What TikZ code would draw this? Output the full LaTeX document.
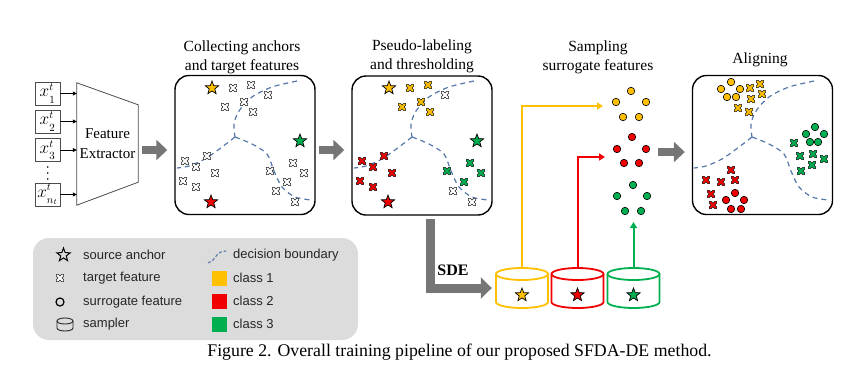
\documentclass[tikz,border=0pt]{standalone}
\usepackage{fontspec}
\setmainfont{Liberation Serif}
\newfontfamily\lgfont{Liberation Sans}
\usetikzlibrary{shapes.geometric,arrows.meta,calc}
\definecolor{cy}{HTML}{FFC000}
\definecolor{cr}{HTML}{F00000}
\definecolor{cg}{HTML}{00B050}
\definecolor{bnd}{HTML}{5577AA}
\definecolor{garr}{HTML}{767676}
\definecolor{lgbg}{HTML}{DCDCDC}
\newcommand\xin[2]{$x^{#1}_{\lower2pt\hbox{$\scriptstyle #2$}}$}
\tikzset{
  pics/tf/.style={code={
    \draw[line width=3.4pt,line cap=round,black!85] (-2.7,-2.7)--(2.7,2.7) (-2.7,2.7)--(2.7,-2.7);
    \draw[line width=1.8pt,line cap=round,#1] (-2.7,-2.7)--(2.7,2.7) (-2.7,2.7)--(2.7,-2.7);
  }},
  anc/.style={star,star points=5,star point ratio=2.4,minimum size=14pt,inner sep=0pt,draw=black,line width=0.7pt,fill=#1},
  sf/.style={circle,draw=black,line width=0.6pt,fill=#1,minimum size=7.5pt,inner sep=0pt},
  panel/.style={draw=black,line width=1.4pt,rounded corners=14pt,minimum width=140pt,minimum height=139pt,inner sep=0pt},
  ttl/.style={font=\fontsize{15.5}{19}\selectfont,align=center,inner sep=0pt},
  inbox/.style={draw=black!70,line width=0.7pt,minimum width=25pt,minimum height=23pt,inner sep=0pt,font=\fontsize{16}{16}\selectfont},
  inarr/.style={black,line width=0.8pt,-{Triangle[length=4pt,width=4pt]}},
  bigarr/.style={garr,line width=8pt,-{Triangle[length=11pt,width=20pt]}},
  bline/.style={bnd,line width=1.2pt,dash pattern=on 5pt off 4pt},
  carr/.style={line width=2pt,-{Triangle[length=6pt,width=7pt]}},
  lgt/.style={font=\lgfont\fontsize{13}{15}\selectfont,anchor=west,inner sep=0pt,text=black!85},
}
\newcommand\mybnd{%
  \draw[bline] plot[smooth] coordinates {(297,81)(272,87)(252,97)(239,111)(234,124)(235,137)};
  \draw[bline] plot[smooth] coordinates {(235,137)(222,147)(205,159)(189,166)(177,168)};
  \draw[bline] plot[smooth] coordinates {(235,137)(252,144)(267,154)(274,171)(282,187)(295,197)(311,200)};
}
\newcommand\mycyl[3]{%
  \node[minimum width=52pt,minimum height=40pt,inner sep=0pt] (#1) at (#2,288) {};
  \draw[#3,line width=1.8pt,fill=white] (#2-26,274) -- (#2-26,302) arc[start angle=180,end angle=0,x radius=26,y radius=6] -- (#2+26,274);
  \draw[#3,line width=1.8pt] (#2,274) ellipse[x radius=26,y radius=6];
}
\begin{document}
\begin{tikzpicture}[x=1pt,y=-1pt]
\useasboundingbox (0,0) rectangle (865,381);

% ---------- inputs and feature extractor
\node[inbox] (x1) at (47.5,93.5) {\xin{t}{1}};
\node[inbox] (x2) at (47.5,121.5) {\xin{t}{2}};
\node[inbox] (x3) at (47.5,150) {\xin{t}{3}};
\node[inbox] (x4) at (47.5,194.5) {\xin{t}{n_t}};
\foreach \yy in {167,173,179} \fill[black] (47.7,\yy) circle[radius=0.9];
\node[minimum width=61pt,minimum height=122pt,inner sep=0pt,align=center,font=\fontsize{15}{20}\selectfont] (fe) at (107.5,144) {Feature\\Extractor};
\draw[black!70,line width=0.8pt] (fe.north west) -- ($(fe.north east)+(0,22)$) -- ($(fe.south east)+(0,-23)$) -- (fe.south west) -- cycle;
\foreach \n in {x1,x2,x3,x4} \draw[inarr] (\n.east) -- (\n.east -| fe.west);

% ---------- panels
\node[panel] (p1) at (245,145) {};
\node[panel] (p2) at (422,145.5) {};
\node[panel] (p4) at (762.5,145) {};
\node[ttl] (t1) at (242,57.5) {Collecting anchors\\and target features};
\node[ttl] (t2) at (422,56) {Pseudo-labeling\\and thresholding};
\node[ttl] (t3) at (598,57) {Sampling\\surrogate features};
\node[ttl] (t4) at (760,60) {Aligning};

% gray arrows
\coordinate (a1s) at (142,150);
\draw[bigarr,shorten >=7pt] (a1s) -- (a1s -| p1.west);
\draw[bigarr,shorten <=3pt,shorten >=7pt] (p1.east |- a1s) -- (p2.west |- a1s);
\coordinate (a3s) at (658,152);
\draw[bigarr,shorten >=7pt] (a3s) -- (a3s -| p4.west);

% ---------- panel 1 content
\mybnd
\foreach \p in {(233,88),(251,85),(268,95),(244,102),(225,107),(253,112),
  (185,161),(207,156),(196,167),(215,173),(183,181),(196,187),
  (293,163),(270,171),(304,173),(287,182),(276,191),(295,202)}
  \pic at \p {tf=white};
\node[anc=cy] (s11) at (212,88) {};
\node[anc=cg] (s13) at (300,141) {};
\node[anc=cr] (s12) at (211,202) {};

% ---------- panel 2 content
\begin{scope}[xshift=177pt]
\mybnd
\foreach \p in {(233,88),(251,85),(244,102),(225,107),(253,112)} \pic at \p {tf=cy};
\pic at (268,95) {tf=white};
\foreach \p in {(185,161),(207,156),(196,167),(215,173),(183,181),(196,187)} \pic at \p {tf=cr};
\foreach \p in {(293,163),(270,171),(304,173),(287,182)} \pic at \p {tf=cg};
\foreach \p in {(276,191),(295,202)} \pic at \p {tf=white};
\node[anc=cy] (s21) at (212,88) {};
\node[anc=cg] (s23) at (300,141) {};
\node[anc=cr] (s22) at (211,202) {};
\end{scope}

% ---------- aligning panel content
\begin{scope}[xshift=517pt]
\mybnd
\end{scope}
\foreach \p in {(750,88),(760,84),(762,94),(751,99),(738,108),(749,112)} \pic at \p {tf=cy};
\foreach \p in {(794,143),(800,156),(813,154),(824,159),(812,165),(801,171)} \pic at \p {tf=cg};
\foreach \p in {(731,170),(706,180),(721,182),(735,180),(711,194),(713,205)} \pic at \p {tf=cr};
\foreach \p/\n in {(731,82)/1,(721,89)/2,(740,89)/3,(727,97)/4,(736,97)/5} \node[sf=cy] (ay\n) at \p {};
\foreach \p/\n in {(815,127)/1,(806,134)/2,(824,134)/3,(810,142)/4,(818,142)/5} \node[sf=cg] (ag\n) at \p {};
\foreach \p/\n in {(735,193)/1,(726,200)/2,(744,200)/3,(731,209)/4,(741,209)/5} \node[sf=cr] (ar\n) at \p {};

% ---------- sampled surrogate features
\foreach \p/\n in {(631,91)/1,(616,102)/2,(646,102)/3,(623,117)/4,(639,117)/5} \node[sf=cy] (sy\n) at \p {};
\foreach \p/\n in {(632,137)/1,(617,149)/2,(646,149)/3,(624,163)/4,(639,163)/5} \node[sf=cr] (sr\n) at \p {};
\foreach \p/\n in {(633,185)/1,(617,196)/2,(647,196)/3,(625,211)/4,(641,211)/5} \node[sf=cg] (sg\n) at \p {};

% ---------- samplers
\mycyl{cy1}{522}{cy}
\mycyl{cy2}{577.5}{cr}
\mycyl{cy3}{633.5}{cg}
\node[anc=cy] (sc1) at (522,295) {};
\node[anc=cr] (sc2) at (577.5,295) {};
\node[anc=cg] (sc3) at (633.5,295) {};
\coordinate (ya) at (603,106);
\coordinate (ra) at (605,157);
\coordinate (ga) at (633.5,222);
\draw[carr,cy] (cy1.north) |- (ya);
\draw[carr,cr] (cy2.north) |- (ra);
\draw[carr,cg] (cy3.north) -- (ga);

% SDE arrow
\coordinate (sd) at (430,219);
\draw[garr,line width=9pt,-{Triangle[length=11pt,width=21pt]},shorten >=4pt] (sd) |- (cy1.west);
\node[font=\bfseries\fontsize{16}{16}\selectfont,inner sep=0pt] (sde) at (453,270) {SDE};

% ---------- legend
\node[fill=lgbg,rounded corners=16pt,minimum width=325pt,minimum height=102pt,inner sep=0pt] (lg) at (195.5,289) {};
\node[star,star points=5,star point ratio=2.4,minimum size=14pt,inner sep=0pt,draw=black,line width=1pt] (lgs) at (63.5,255) {};
\pic at (60,278) {tf=white};
\node[circle,draw=black,line width=1.2pt,minimum size=8pt,inner sep=0pt] (lgc) at (60,302) {};
\draw[black!85,line width=0.9pt] (57,321) -- (57,328) arc[start angle=180,end angle=0,x radius=8,y radius=3] -- (73,321);
\draw[black!85,line width=0.9pt] (65,321) ellipse[x radius=8,y radius=3];
\node[lgt] (l1) at (83,255) {source anchor};
\node[lgt] (l2) at (83,278) {target feature};
\node[lgt] (l3) at (83,302) {surrogate feature};
\node[lgt] (l4) at (83,324) {sampler};
\draw[bnd,line width=1.1pt,dash pattern=on 3pt off 2pt] plot[smooth] coordinates {(208,263)(213,260)(217,255)(221,252)(226,251)};
\node[fill=cy,minimum size=15pt,inner sep=0pt] (k1) at (219,278) {};
\node[fill=cr,minimum size=15pt,inner sep=0pt] (k2) at (219,301) {};
\node[fill=cg,minimum size=15pt,inner sep=0pt] (k3) at (219,324) {};
\node[lgt] (l5) at (233,255) {decision boundary};
\node[lgt] (l6) at (233,278) {class 1};
\node[lgt] (l7) at (233,301) {class 2};
\node[lgt] (l8) at (233,324) {class 3};

% ---------- caption
\node[font=\fontsize{17.8}{20}\selectfont,inner sep=0pt] (cap) at (459.5,352) {Figure 2. Overall training pipeline of our proposed SFDA-DE method.};
\end{tikzpicture}
\end{document}
